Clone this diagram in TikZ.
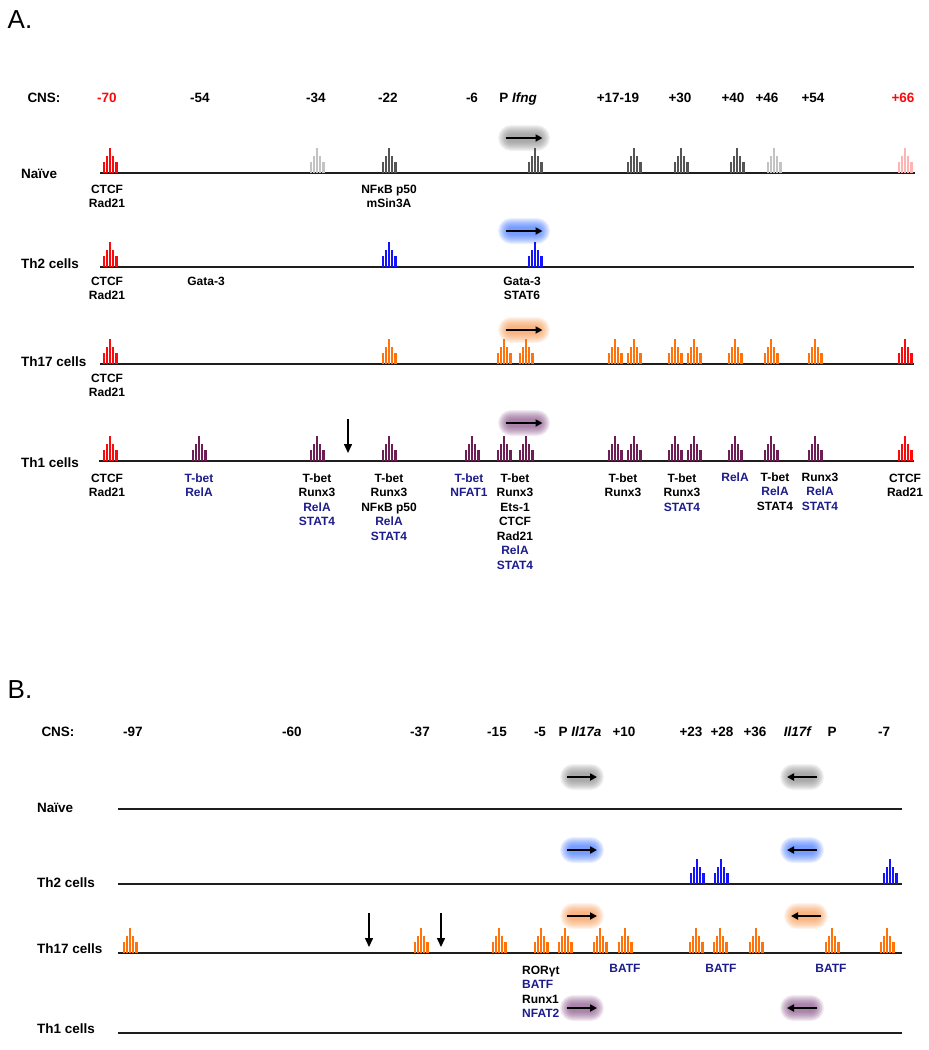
\documentclass[tikz,border=0pt]{standalone}
\usepackage{fontspec}
\setmainfont{Liberation Sans}
\usetikzlibrary{arrows.meta}

\definecolor{tfblue}{RGB}{28,28,140}
\definecolor{linegrey}{RGB}{30,30,30}
\definecolor{redpk}{RGB}{250,10,10}
\definecolor{palered}{RGB}{255,180,180}
\definecolor{greypk}{RGB}{85,85,85}
\definecolor{palegrey}{RGB}{195,195,195}
\definecolor{bluepk}{RGB}{20,20,250}
\definecolor{orangepk}{RGB}{255,115,10}
\definecolor{purplepk}{RGB}{110,30,85}
\definecolor{glowgrey}{RGB}{120,120,120}
\definecolor{glowblue}{RGB}{40,100,255}
\definecolor{gloworange}{RGB}{245,140,60}
\definecolor{glowpurple}{RGB}{120,60,120}

\newcommand{\bl}[1]{\textcolor{tfblue}{#1}}

% one binding peak: x, base line y, colour
\newcommand{\peak}[3]{%
  \foreach \dx/\h in {-6.4/11,-3.2/17,0/25,3.2/17,6.4/11}{
    \draw[#3,line width=2.2pt] ({#1+\dx},#2) -- ({#1+\dx},{#2-\h});}}

% promoter arrow with a soft glow: x, y, glow colour, glow half width, arrow half length (negative = left)
\newcommand{\glowarrow}[5]{%
  \foreach \k in {0,...,9}{
    \pgfmathsetmacro\gw{#4-2+1.0*\k}
    \pgfmathsetmacro\gh{4+1.0*\k}
    \fill[#3,opacity=.095,rounded corners=\gh pt] ({#1-\gw},{#2-\gh}) rectangle ({#1+\gw},{#2+\gh});
  }
  \draw[line width=1.8pt,-{Triangle[length=7pt,width=7pt]}] ({#1-(#5)},#2) -- ({#1+(#5)},#2);}

\begin{document}
\begin{tikzpicture}[x=1pt,y=-1pt,
    panel/.style={font=\fontsize{26}{30}\selectfont,inner sep=0pt},
    cnsname/.style={font=\bfseries\fontsize{13.5}{16}\selectfont,inner sep=0pt,anchor=base},
    rowname/.style={font=\bfseries\fontsize{13.5}{16}\selectfont,inner sep=0pt,anchor=base west},
    tf/.style={font=\bfseries\fontsize{12}{14.5}\selectfont,inner sep=0pt,align=center,anchor=north},
    tfleft/.style={tf,align=left,anchor=north west},
    dna/.style={draw=linegrey,line width=2pt},
    hit/.style={line width=1.5pt,-{Triangle[length=9pt,width=8pt]}}]

\useasboundingbox (0,0) rectangle (929,1050);

%%%%%%%%%%%%%%%% panel A: Ifng
\node[panel] (pA) at (20,20) {A.};

\node[cnsname] (cnsA) at (44,102) {CNS:};
\node[cnsname,text=redpk] (m70) at (107,102) {-70};
\node[cnsname] (m54) at (200,102) {-54};
\node[cnsname] (m34) at (316,102) {-34};
\node[cnsname] (m22) at (388,102) {-22};
\node[cnsname] (m6) at (472,102) {-6};
\node[cnsname] (pifng) at (518,102) {P \textit{Ifng}};
\node[cnsname] (p17) at (618,102) {+17-19};
\node[cnsname] (p30) at (680,102) {+30};
\node[cnsname] (p40) at (733,102) {+40};
\node[cnsname] (p46) at (767,102) {+46};
\node[cnsname] (p54) at (813,102) {+54};
\node[cnsname,text=redpk] (p66) at (903,102) {+66};

% naive
\node[rowname] (naiveA) at (21,178) {Naïve};
\draw[dna] (100,173) -- (915,173);
\glowarrow{524}{138}{glowgrey}{19}{18.5}
\peak{110}{173}{redpk}
\peak{317}{173}{palegrey}
\peak{389}{173}{greypk}
\peak{535}{173}{greypk}
\peak{634}{173}{greypk}
\peak{681}{173}{greypk}
\peak{737}{173}{greypk}
\peak{774}{173}{palegrey}
\peak{905}{173}{palered}
\node[tf] (nA1) at (107,184.5) {CTCF\\Rad21};
\node[tf] (nA2) at (389,184.5) {NFκB p50\\mSin3A};

% Th2
\node[rowname] (th2A) at (21,268) {Th2 cells};
\draw[dna] (100,267) -- (914,267);
\glowarrow{524}{231}{glowblue}{19}{18.5}
\peak{110}{267}{redpk}
\peak{389}{267}{bluepk}
\peak{535}{267}{bluepk}
\node[tf] (tA1) at (107,276.5) {CTCF\\Rad21};
\node[tf] (tA2) at (206,276.5) {Gata-3};
\node[tf] (tA3) at (522,276.5) {Gata-3\\STAT6};

% Th17
\node[rowname] (th17A) at (21,366) {Th17 cells};
\draw[dna] (100,364) -- (914,364);
\glowarrow{524}{330}{gloworange}{19}{18.5}
\peak{110}{364}{redpk}
\foreach \px in {389,504,526,615,634,675,694,735,771,815}{
  \peak{\px}{364}{orangepk}}
\peak{905}{364}{redpk}
\node[tf] (sA1) at (107,373.5) {CTCF\\Rad21};

% Th1
\node[rowname] (th1A) at (21,467) {Th1 cells};
\draw[dna] (99,461) -- (914,461);
\glowarrow{524}{423}{glowpurple}{19}{18.5}
\peak{110}{461}{redpk}
\foreach \px in {199,317,389,472,504,526,615,634,675,694,735,771,815}{
  \peak{\px}{461}{purplepk}}
\peak{905}{461}{redpk}
\coordinate (cutA) at (348,419);
\coordinate (cutAend) at (348,453);
\draw[hit] (cutA) -- (cutAend);
\node[tf] (hA1) at (107,473.5) {CTCF\\Rad21};
\node[tf] (hA2) at (199,473.5) {\bl{T-bet}\\\bl{RelA}};
\node[tf] (hA3) at (317,473.5) {T-bet\\Runx3\\\bl{RelA}\\\bl{STAT4}};
\node[tf] (hA4) at (389,473.5) {T-bet\\Runx3\\NFκB p50\\\bl{RelA}\\\bl{STAT4}};
\node[tf] (hA5) at (469,473.5) {\bl{T-bet}\\\bl{NFAT1}};
\node[tf] (hA6) at (515,473.5) {T-bet\\Runx3\\Ets-1\\CTCF\\Rad21\\\bl{RelA}\\\bl{STAT4}};
\node[tf] (hA7) at (623,473.5) {T-bet\\Runx3};
\node[tf] (hA8) at (682,473.5) {T-bet\\Runx3\\\bl{STAT4}};
\node[tf] (hA9) at (735,473) {\bl{RelA}};
\node[tf] (hA10) at (775,472.5) {T-bet\\\bl{RelA}\\STAT4};
\node[tf] (hA11) at (820,472.5) {Runx3\\\bl{RelA}\\\bl{STAT4}};
\node[tf] (hA12) at (905,473.5) {CTCF\\Rad21};

%%%%%%%%%%%%%%%% panel B: Il17a / Il17f
\node[panel] (pB) at (20,690) {B.};

\node[cnsname] (cnsB) at (58,736) {CNS:};
\node[cnsname] (m97) at (133,736) {-97};
\node[cnsname] (m60) at (292,736) {-60};
\node[cnsname] (m37) at (420,736) {-37};
\node[cnsname] (m15) at (497,736) {-15};
\node[cnsname] (m5) at (540,736) {-5};
\node[cnsname] (pila) at (580,736) {P \textit{Il17a}};
\node[cnsname] (p10) at (624,736) {+10};
\node[cnsname] (p23) at (691,736) {+23};
\node[cnsname] (p28) at (722,736) {+28};
\node[cnsname] (p36) at (755,736) {+36};
\node[cnsname] (ilf) at (798,736) {\textit{Il17f}};
\node[cnsname] (pf) at (832,736) {P};
\node[cnsname] (m7) at (884,736) {-7};

% naive
\node[rowname] (naiveB) at (37,812) {Naïve};
\draw[dna] (118,809) -- (902,809);
\glowarrow{582}{777}{glowgrey}{15}{15}
\glowarrow{802}{777}{glowgrey}{15}{-15}

% Th2
\node[rowname] (th2B) at (37,887) {Th2 cells};
\draw[dna] (118,884) -- (902,884);
\glowarrow{582}{850}{glowblue}{15}{15}
\glowarrow{802}{850}{glowblue}{15}{-15}
\foreach \px in {697,721,890}{
  \peak{\px}{884}{bluepk}}

% Th17
\node[rowname] (th17B) at (37,953) {Th17 cells};
\draw[dna] (118,953) -- (902,953);
\glowarrow{582}{916}{gloworange}{15}{15}
\glowarrow{806}{916}{gloworange}{15}{-15}
\foreach \px in {130,421,499,541,565,600,625,696,720,756,832,887}{
  \peak{\px}{953}{orangepk}}
\coordinate (cutB1) at (369,913);
\coordinate (cutB1end) at (369,947);
\coordinate (cutB2) at (441,913);
\coordinate (cutB2end) at (441,947);
\draw[hit] (cutB1) -- (cutB1end);
\draw[hit] (cutB2) -- (cutB2end);
\node[tfleft] (sB1) at (522,965.5) {RORγt\\\bl{BATF}\\Runx1\\\bl{NFAT2}};
\node[tf] (sB2) at (625,964.5) {\bl{BATF}};
\node[tf] (sB3) at (721,964.5) {\bl{BATF}};
\node[tf] (sB4) at (831,964.5) {\bl{BATF}};

% Th1
\node[rowname] (th1B) at (37,1033) {Th1 cells};
\draw[dna] (118,1033) -- (902,1033);
\glowarrow{582}{1008}{glowpurple}{15}{15}
\glowarrow{802}{1008}{glowpurple}{15}{-15}

\end{tikzpicture}
\end{document}
